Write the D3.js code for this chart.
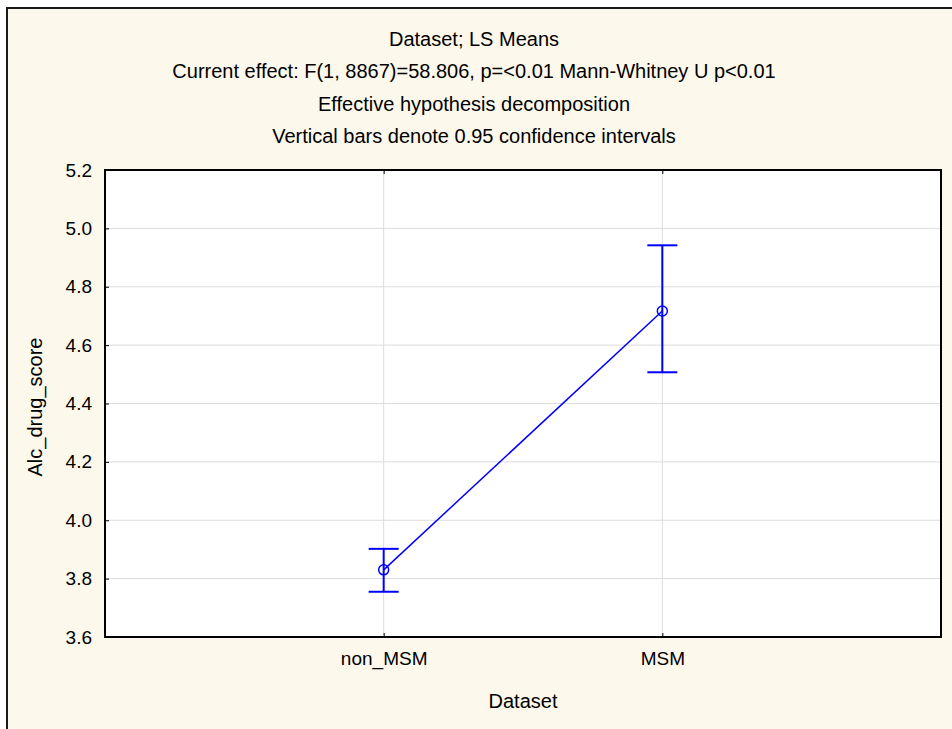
<!DOCTYPE html>
<html>
<head>
<meta charset="utf-8">
<script src="https://cdn.jsdelivr.net/npm/d3@7"></script>
<style>
  body { margin: 0; background: #fff; }
  svg text { font-family: "Liberation Sans", Arial, sans-serif; fill: #000; }
</style>
</head>
<body>
<svg id="chart" width="952" height="729"></svg>
<script>
// data
const groups = ["non_MSM", "MSM"];
const means = [3.830, 4.717];
const ciLow = [3.755, 4.507];
const ciHigh = [3.902, 4.942];
const yTicks = [3.6, 3.8, 4.0, 4.2, 4.4, 4.6, 4.8, 5.0, 5.2];
const titleLines = [
  "Dataset; LS Means",
  "Current effect: F(1, 8867)=58.806, p=<0.01 Mann-Whitney U p<0.01",
  "Effective hypothesis decomposition",
  "Vertical bars denote 0.95 confidence intervals"
];

const svg = d3.select("#chart");
const W = 952, H = 729;
const m = {left: 105, right: 941, top: 170, bottom: 637};

// cream panel with frame on left/top
svg.append("rect").attr("x", 7).attr("y", 8).attr("width", W).attr("height", H)
  .attr("fill", "#fdf8ec").attr("stroke", "#1a1a1a").attr("stroke-width", 2);

const x = d3.scalePoint().domain(groups).range([m.left, m.right]).padding(1);
const y = d3.scaleLinear().domain([3.6, 5.2]).range([m.bottom, m.top]);

// titles
svg.selectAll("text.title").data(titleLines).enter().append("text")
  .attr("class", "title")
  .attr("x", 474)
  .attr("y", (d, i) => 46 + i * 32.4)
  .attr("text-anchor", "middle")
  .style("font-size", "20px")
  .text(d => d);

// plot area
svg.append("rect").attr("x", m.left).attr("y", m.top)
  .attr("width", m.right - m.left).attr("height", m.bottom - m.top)
  .attr("fill", "#fff");

// grid
const g = svg.append("g");
g.selectAll("line.hg").data(yTicks.slice(1, -1)).enter().append("line")
  .attr("x1", m.left).attr("x2", m.right)
  .attr("y1", d => y(d)).attr("y2", d => y(d))
  .attr("stroke", "#dcdcdc").attr("stroke-width", 1);
g.selectAll("line.vg").data(groups).enter().append("line")
  .attr("x1", d => x(d)).attr("x2", d => x(d))
  .attr("y1", m.top).attr("y2", m.bottom)
  .attr("stroke", "#dcdcdc").attr("stroke-width", 1);

// axes (ticks pointing inward)
const yAxis = svg.append("g").attr("transform", `translate(${m.left},0)`)
  .call(d3.axisLeft(y).tickValues(yTicks).tickFormat(d3.format(".1f")).tickSizeInner(-4).tickSizeOuter(0).tickPadding(13));
yAxis.select(".domain").remove();
yAxis.selectAll("line").attr("stroke", "#000");
yAxis.selectAll("text").style("font-size", "19px").attr("font-family", null);

const xAxis = svg.append("g").attr("transform", `translate(0,${m.bottom})`)
  .call(d3.axisBottom(x).tickSizeInner(-4).tickSizeOuter(0).tickPadding(15));
xAxis.select(".domain").remove();
xAxis.selectAll("line").attr("stroke", "#000");
xAxis.selectAll("text").style("font-size", "19px").attr("font-family", null);

const xTop = svg.append("g").attr("transform", `translate(0,${m.top})`)
  .call(d3.axisTop(x).tickSizeInner(-4).tickSizeOuter(0).tickFormat(""));
xTop.select(".domain").remove();
xTop.selectAll("line").attr("stroke", "#000");

// border
svg.append("rect").attr("x", m.left).attr("y", m.top)
  .attr("width", m.right - m.left).attr("height", m.bottom - m.top)
  .attr("fill", "none").attr("stroke", "#000").attr("stroke-width", 2);

// axis titles
svg.append("text").attr("x", (m.left + m.right) / 2).attr("y", 708)
  .attr("text-anchor", "middle").style("font-size", "20px").text("Dataset");
svg.append("text").attr("transform", "translate(42,407) rotate(-90)")
  .attr("text-anchor", "middle").style("font-size", "20px").text("Alc_drug_score");

// series
const blue = "#0000ff";
const pts = groups.map((d, i) => ({g: d, m: means[i], lo: ciLow[i], hi: ciHigh[i]}));
svg.append("path").datum(pts)
  .attr("d", d3.line().x(d => x(d.g)).y(d => y(d.m)))
  .attr("fill", "none").attr("stroke", blue).attr("stroke-width", 1.5);

const eb = svg.selectAll("g.eb").data(pts).enter().append("g");
eb.append("line").attr("x1", d => x(d.g)).attr("x2", d => x(d.g))
  .attr("y1", d => y(d.lo)).attr("y2", d => y(d.hi))
  .attr("stroke", blue).attr("stroke-width", 2);
eb.append("line").attr("x1", d => x(d.g) - 15).attr("x2", d => x(d.g) + 15)
  .attr("y1", d => y(d.hi)).attr("y2", d => y(d.hi))
  .attr("stroke", blue).attr("stroke-width", 2);
eb.append("line").attr("x1", d => x(d.g) - 15).attr("x2", d => x(d.g) + 15)
  .attr("y1", d => y(d.lo)).attr("y2", d => y(d.lo))
  .attr("stroke", blue).attr("stroke-width", 2);
eb.append("circle").attr("cx", d => x(d.g)).attr("cy", d => y(d.m)).attr("r", 5)
  .attr("fill", "none").attr("stroke", blue).attr("stroke-width", 1.5);
</script>
</body>
</html>
